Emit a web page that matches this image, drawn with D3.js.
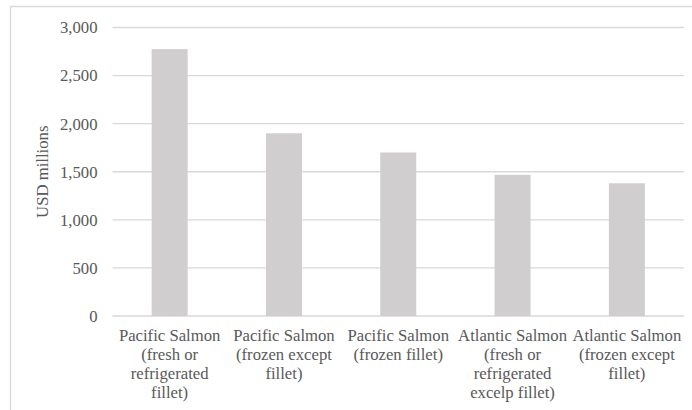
<!DOCTYPE html>
<html>
<head>
<meta charset="utf-8">
<script src="https://cdn.jsdelivr.net/npm/d3@7"></script>
<style>
  html, body { margin: 0; padding: 0; background: #fff; }
  svg { display: block; }
</style>
</head>
<body>
<svg id="chart" width="692" height="410" font-family="Liberation Serif"></svg>
<script>
// Salmon product export values, USD millions
const categories = [
  ["Pacific Salmon", "(fresh or", "refrigerated", "fillet)"],
  ["Pacific Salmon", "(frozen except", "fillet)"],
  ["Pacific Salmon", "(frozen fillet)"],
  ["Atlantic Salmon", "(fresh or", "refrigerated", "excelp fillet)"],
  ["Atlantic Salmon", "(frozen except", "fillet)"]
];
const values = [2775, 1900, 1700, 1468, 1380];
const yTicks = [0, 500, 1000, 1500, 2000, 2500, 3000];
const yTitle = "USD millions";

const FONT = "Liberation Serif";
const TEXT_COLOR = "#595959";
const FONT_SIZE = 16.7;

const svg = d3.select("#chart");
const margin = { left: 112.5, right: 8, top: 27.5, bottom: 94 };
const W = 692, H = 410;

// chart frame
svg.append("path")
  .attr("d", `M10.5,${H} V6.5 H${W}`)
  .attr("fill", "none")
  .attr("stroke", "#d9d9d9")
  .attr("stroke-width", 1.3);

const x = d3.scaleBand()
  .domain(d3.range(categories.length))
  .range([margin.left, W - margin.right])
  .paddingInner(0.685)
  .paddingOuter(0.3425);

const y = d3.scaleLinear()
  .domain([0, 3000])
  .range([H - margin.bottom, margin.top]);

// gridlines
svg.append("g")
  .selectAll("line")
  .data(yTicks)
  .join("line")
  .attr("x1", margin.left)
  .attr("x2", W - margin.right)
  .attr("y1", d => y(d))
  .attr("y2", d => y(d))
  .attr("stroke", "#d9d9d9")
  .attr("stroke-width", 1.3);

// bars
svg.append("g")
  .selectAll("rect")
  .data(values)
  .join("rect")
  .attr("x", (d, i) => x(i))
  .attr("width", x.bandwidth())
  .attr("y", d => y(d))
  .attr("height", d => y(0) - y(d))
  .attr("fill", "#d0cecf");

// y axis labels
const yAxis = d3.axisLeft(y)
  .tickValues(yTicks)
  .tickFormat(d3.format(","))
  .tickSize(0)
  .tickPadding(15);
const ya = svg.append("g")
  .attr("transform", `translate(${margin.left},0)`)
  .call(yAxis);
ya.attr("font-family", FONT).attr("font-size", FONT_SIZE);
ya.select(".domain").remove();
ya.selectAll("text")
  .attr("font-family", FONT)
  .attr("font-size", FONT_SIZE)
  .attr("fill", TEXT_COLOR);

// category labels
const xa = svg.append("g")
  .attr("font-family", FONT)
  .attr("font-size", FONT_SIZE);
categories.forEach((lines, i) => {
  const cx = x(i) + x.bandwidth() / 2;
  const t = xa.append("text")
    .attr("text-anchor", "middle")
    .attr("font-family", FONT)
    .attr("font-size", FONT_SIZE)
    .attr("fill", TEXT_COLOR)
    .attr("x", cx)
    .attr("y", 341);
  lines.forEach((ln, j) => {
    t.append("tspan")
      .attr("x", cx)
      .attr("dy", j === 0 ? 0 : 19)
      .attr("font-family", FONT)
      .text(ln);
  });
});

// y axis title
svg.append("text")
  .attr("transform", `translate(48,${(y(0) + y(3000)) / 2}) rotate(-90)`)
  .attr("text-anchor", "middle")
  .attr("font-family", FONT)
  .attr("font-size", FONT_SIZE)
  .attr("fill", TEXT_COLOR)
  .text(yTitle);
</script>
</body>
</html>
